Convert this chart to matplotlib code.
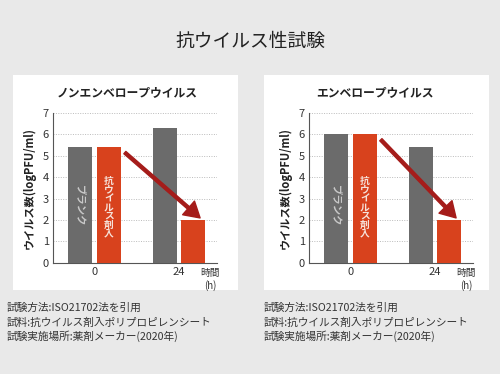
import matplotlib
matplotlib.use('Agg')
import matplotlib.pyplot as plt
from matplotlib.patches import Rectangle
import numpy as np

plt.rcParams['font.family'] = ['Noto Sans CJK JP', 'DejaVu Sans']

# datos
titulo = "抗ウイルス性試験"
paneles = ["ノンエンベロープウイルス", "エンベロープウイルス"]
horas = ["0", "24"]
blanco = [[5.4, 6.3], [6.0, 5.4]]
agente = [[5.4, 2.0], [6.0, 2.0]]
etiqueta_y = "ウイルス数(logPFU/ml)"
notas = ["試験方法:ISO21702法を引用",
         "試料:抗ウイルス剤入ポリプロピレンシート",
         "試験実施場所:薬剤メーカー(2020年)"]

gris = '#6b6b6b'
rojo = '#d8421d'
flecha = '#a51c1a'

fig = plt.figure(figsize=(5, 3.74), dpi=100)
fig.patch.set_facecolor('#e9e9e9')

fig.text(0.5, 0.888, titulo, ha='center', va='center', fontsize=13.5, color='#222222')

ancho = 0.285
desp = 0.17
x = np.arange(len(horas))

for i, nombre in enumerate(paneles):
    px = 0.026 + i * 0.502
    fig.patches.append(Rectangle((px, 0.225), 0.45, 0.575, transform=fig.transFigure,
                                 facecolor='white', edgecolor='none', zorder=-5))
    ax = fig.add_axes([0.106 + i * 0.512, 0.297, 0.328, 0.401])
    ax.set_facecolor('white')
    ax.bar(x - desp, blanco[i], ancho, color=gris, zorder=3)
    ax.bar(x + desp, agente[i], ancho, color=rojo, zorder=3)
    ax.set_xlim(-0.49, 1.45)
    ax.set_ylim(0, 7)
    ax.set_yticks(range(8))
    ax.set_xticks(x)
    ax.set_xticklabels(horas)
    ax.tick_params(length=0, labelsize=8, colors='#333333', pad=3)
    ax.yaxis.grid(True, linestyle=(0, (1, 1.5)), color='#bbbbbb', linewidth=0.7, zorder=0)
    for s in ['top', 'right']:
        ax.spines[s].set_visible(False)
    for s in ['left', 'bottom']:
        ax.spines[s].set_color('#555555')
        ax.spines[s].set_linewidth(0.8)
    ax.set_ylabel(etiqueta_y, fontsize=8, fontweight='bold', color='#222222', labelpad=5)
    ax.set_title(nombre, fontsize=8.5, fontweight='bold', color='#222222', pad=12,
                 x=0.45 if i == 0 else 0.4)
    ax.text(x[0] - desp, 2.65, "ブランク", rotation=-90, ha='center', va='center',
            fontsize=7.5, fontweight='bold', color='#c9c9c9')
    ax.text(x[0] + desp, 2.6, "\n".join("抗ウイルス剤入"), ha='center', va='center',
            fontsize=7, fontweight='bold', color='#f6e2da', linespacing=0.85)
    ax.text(1.37, -0.25, "時間\n(h)", ha='center', va='top', fontsize=7,
            color='#333333', clip_on=False, linespacing=1.2)
    ax.annotate("", xy=(x[1] + desp + 0.08, agente[i][1] + 0.1),
                xytext=(x[0] + desp + 0.19, agente[i][0] - 0.25),
                arrowprops=dict(arrowstyle="simple,head_length=1.1,head_width=1.3,tail_width=0.22",
                                color=flecha, shrinkA=0, shrinkB=0), zorder=5)

    for j, n in enumerate(notas):
        fig.text(0.014 + i * 0.514, 0.176 - j * 0.038, n, fontsize=7.7, color='#333333',
                 va='center')

fig.savefig('out.png', dpi=100, facecolor=fig.get_facecolor())
